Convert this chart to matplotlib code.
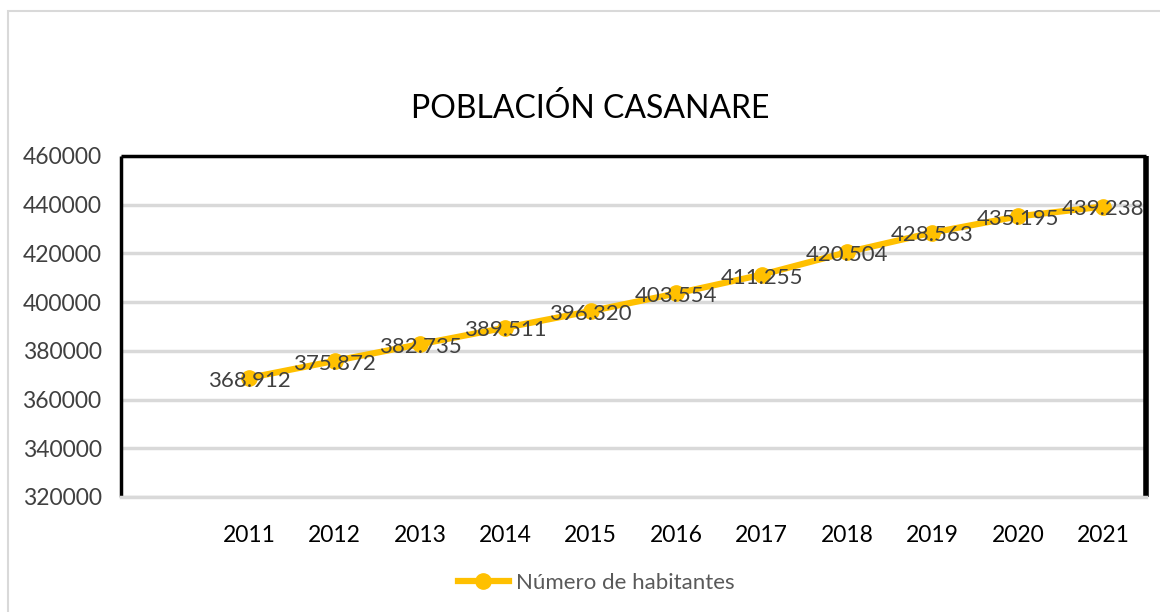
import matplotlib
matplotlib.use("Agg")
import matplotlib.pyplot as plt
from matplotlib.patches import Rectangle
from matplotlib.lines import Line2D

years = ["2011", "2012", "2013", "2014", "2015", "2016", "2017", "2018", "2019", "2020", "2021"]
habitantes = [368912, 375872, 382735, 389511, 396320, 403554, 411255, 420504, 428563, 435195, 439238]
title = "POBLACIÓN CASANARE"
series_name = "Número de habitantes"
y_ticks = [320000, 340000, 360000, 380000, 400000, 420000, 440000, 460000]

W, H = 1160, 612
DPI = 100
plt.rcParams['font.family'] = ['Lato', 'DejaVu Sans']

fig = plt.figure(figsize=(W / DPI, H / DPI), dpi=DPI)
fig.patch.set_facecolor("white")

# outer chart border (extends past right/bottom edges)
fig.patches.append(Rectangle((8 / W, -0.1), 1.2, (H - 11) / H + 0.1, transform=fig.transFigure,
                             fill=False, edgecolor="#d9d9d9", linewidth=1.5, zorder=0))

L, R, T, B = 121, 1146, 156, 497
ax = fig.add_axes([L / W, 1 - B / H, (R - L) / W, (B - T) / H])

xs = list(range(1, len(years) + 1))
ax.set_ylim(y_ticks[0], y_ticks[-1])
ax.set_yticks(y_ticks)
ax.set_yticklabels([str(v) for v in y_ticks], fontsize=16.5, color="#404040")
ax.set_xticks(xs)
ax.set_xticklabels(years, fontsize=16.5, color="#000000")
ax.set_xlim(-0.5, len(years) + 0.5)
ax.tick_params(axis='x', length=0, pad=20)
ax.tick_params(axis='y', length=0, pad=14)

ax.grid(axis='y', color="#d9d9d9", linewidth=2.5, zorder=1)
ax.set_axisbelow(True)

for s in ["left", "top", "right"]:
    ax.spines[s].set_color("black")
    ax.spines[s].set_linewidth(2.5)
    ax.spines[s].set_capstyle("butt")
ax.spines["right"].set_linewidth(4)
ax.spines["bottom"].set_color("#d9d9d9")
ax.spines["bottom"].set_linewidth(2.5)

ax.plot(xs, habitantes, color="#FFC000", linewidth=4.5, marker="o", markersize=11,
        markeredgecolor="#FFC000", markerfacecolor="#FFC000", zorder=3, solid_capstyle="round")

for x, v in zip(xs, habitantes):
    lab = f"{v:,}".replace(",", ".")
    ax.annotate(lab, (x, v), xytext=(0, -2), textcoords="offset points", ha="center", va="center",
                fontsize=16, color="#404040", zorder=4)

fig.text(590 / W, 1 - 109 / H, title, ha="center", va="center", fontsize=23, color="#000000")

# legend
legend_handle = Line2D([0], [0], color="#FFC000", linewidth=4.5, marker="o", markersize=11,
                       markeredgecolor="#FFC000", markerfacecolor="#FFC000")
fig.legend([legend_handle], [series_name], loc="center", bbox_to_anchor=(596 / W, 1 - 583 / H),
           frameon=False, fontsize=16, handlelength=2.3, labelcolor="#595959", handletextpad=0.3)

fig.savefig("out.png", dpi=DPI)
